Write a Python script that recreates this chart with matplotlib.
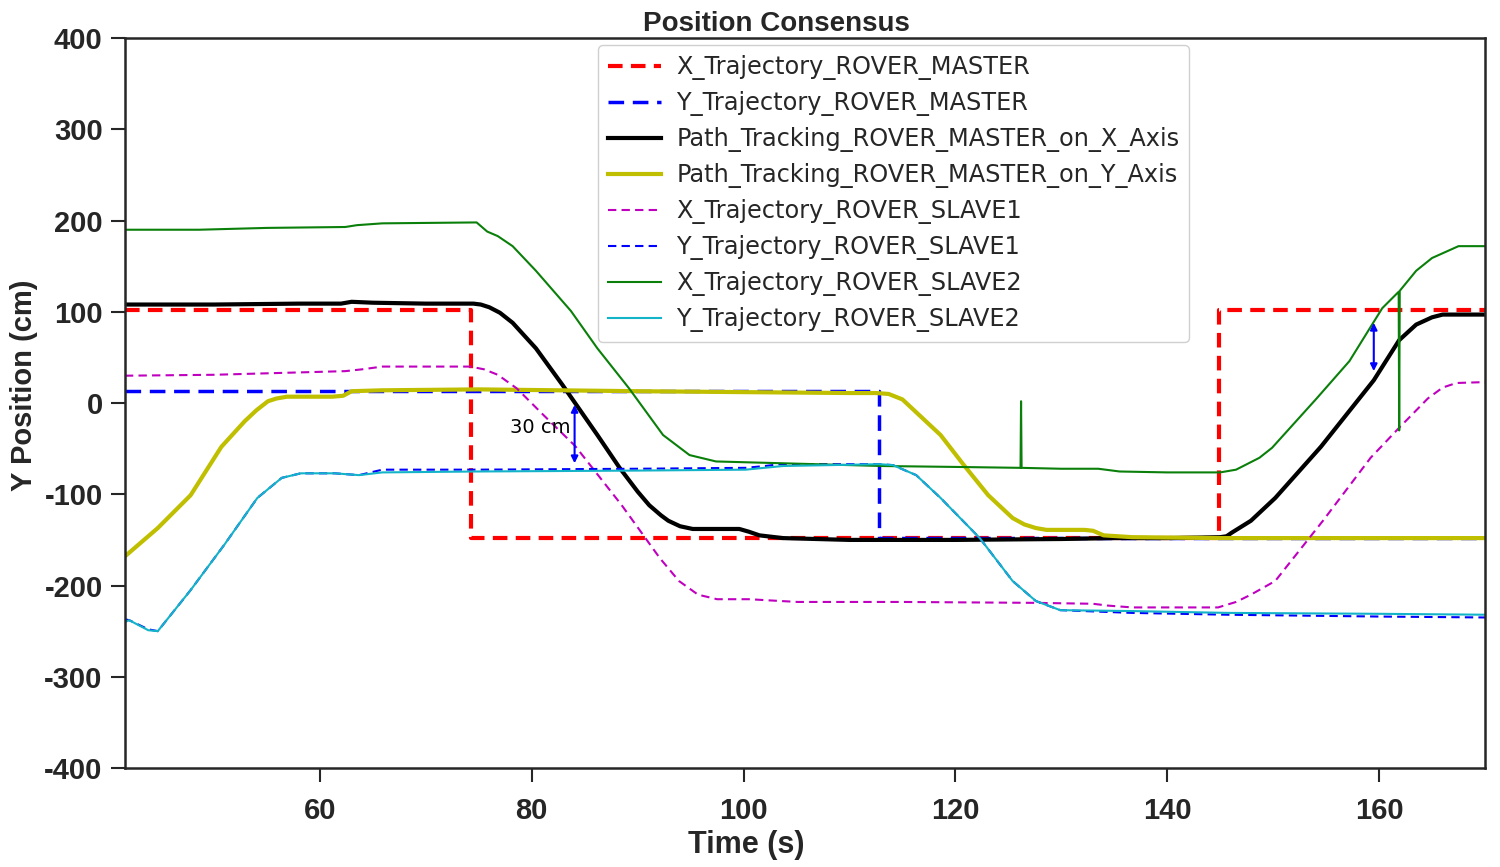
import matplotlib
matplotlib.use("Agg")
import matplotlib.pyplot as plt

plt.rcParams["axes.unicode_minus"] = False

# ---------------------------------------------------------------------------
# Data (time in s, position in cm)
# ---------------------------------------------------------------------------

x_master_t = [41.6, 74.3, 74.3, 144.9, 144.9, 170]
x_master_y = [102, 102, -148, -148, 102, 102]

y_master_t = [41.6, 112.8, 112.8, 170]
y_master_y = [13, 13, -148, -148]

track_x_t = [41.6, 50, 58, 62, 63, 65, 70, 74.5, 75.2, 76, 77, 78.2, 80.4, 82.9,
             86.2, 88.3, 90, 91.1, 92.2, 92.9, 94, 95.2, 99.6, 100.5, 101.5,
             103.7, 110, 120, 130, 135, 140, 145, 145.6, 146.1, 147.9, 150.2,
             154.5, 159.5, 161.9, 163.5, 165, 166, 170]
track_x_y = [108, 108, 109, 109, 111, 110, 109, 109, 108, 105, 99, 88, 60, 20,
             -35, -71, -97, -112, -123, -129, -135, -138, -138, -141, -145,
             -148, -150, -150, -149, -148, -148, -147, -146, -142, -129, -104,
             -48, 25, 69, 86, 94, 97, 97]

track_y_t = [41.6, 42, 44.7, 47.8, 50.7, 52.9, 54, 55.1, 55.9, 56.9, 61.2, 62.2,
             63, 65.9, 75, 90, 100, 110, 112.5, 113.7, 115, 118.6, 120.8, 123.1,
             125.4, 126.5, 127.6, 128.6, 132.2, 133, 134, 136.7, 145, 170]
track_y_y = [-168, -164, -137, -101, -48, -20, -8, 2, 5, 7, 7, 8,
             13, 14, 15, 13, 12, 11, 11, 10, 4, -35, -68, -101,
             -126, -133, -137, -139, -139, -140, -145, -147, -148, -148]

x_slave1_t = [41.6, 50, 62.4, 64, 65.9, 74.2, 75.5, 76.8, 78.6, 81.1, 84.1, 88.5,
              92.1, 93.9, 95.7, 97.5, 100.6, 102, 105.1, 115, 127.6, 133, 134.4,
              136.7, 144.8, 146.5, 147.9, 150.2, 154.7, 159.2, 161.9, 164.6, 166,
              167.3, 170]
x_slave1_y = [30, 31, 35, 37, 40, 40, 37, 31, 16, -13, -47, -112,
              -170, -195, -210, -215, -215, -216, -218, -218, -219, -220, -222,
              -224, -224, -218, -210, -195, -129, -60, -27, 5, 17,
              22, 23]

y_slave1_t = [41.6, 42, 43.8, 44.7, 47.8, 51, 54.1, 56.4, 58.2, 61.4, 63.7, 65.9,
              74.9, 90, 100.2, 102, 103.5, 112.8, 114.1, 116.3, 118.6, 122.3,
              125.4, 127.6, 129.9, 136.7, 145.7, 160, 170]
y_slave1_y = [-237, -238, -248, -250, -205, -155, -104, -82, -77, -77, -79, -73,
              -73, -72, -71, -69, -67, -67, -68, -79, -104, -148,
              -195, -217, -227, -230, -232, -234, -235]

x_slave2_t = [41.6, 48.6, 55, 62.4, 63.5, 65.9, 74.8, 75.8, 76.8, 78.2, 80.4,
              83.7, 86.2, 89.2, 92.4, 94.9, 97.4, 103.7, 113.1, 120, 126.15,
              126.2, 126.25, 130, 133.5, 135.5, 140, 145, 146.5, 148.7, 149.9,
              154.1, 157.2, 160.3, 161.85, 161.9, 161.95, 163.5, 165, 167.5, 170]
x_slave2_y = [190, 190, 192, 193, 195, 197, 198, 188, 183, 172, 145,
              101, 60, 16, -35, -57, -64, -66, -69, -70, -71,
              2, -71, -72, -72, -75, -76, -76, -73, -60, -49,
              5, 46, 104, 122, -30, 123, 145, 159, 172, 172]

y_slave2_t = [41.6, 42, 43.8, 44.7, 47.8, 51, 54.1, 56.4, 58.2, 61.4, 63.7, 65.9,
              74.9, 90, 100.2, 103.7, 112.8, 114.1, 116.3, 118.6, 122.3, 125.4,
              127.6, 129.9, 136.7, 145.7, 160, 170]
y_slave2_y = [-240, -238, -249, -250, -205, -155, -104, -82, -77, -77, -79, -76,
              -75, -74, -73, -69, -67, -68, -79, -104, -148, -195,
              -217, -227, -228, -230, -231, -232]

gap_arrows = [(84.05, -2, -66), (159.5, 88, 35)]
gap_label = "30 cm"

TEXT = "#262626"
BOLD_FONT = ["Liberation Sans", "DejaVu Sans"]

fig = plt.figure(figsize=(15, 8.67), dpi=100)
ax = fig.add_axes([0.0833, 0.1142, 0.9067, 0.8418])

ax.plot(x_master_t, x_master_y, color="#ff0000", lw=3, dashes=(3.5, 2),
        label="X_Trajectory_ROVER_MASTER")
ax.plot(y_master_t, y_master_y, color="#0000ff", lw=2.5, dashes=(4.5, 2.5),
        label="Y_Trajectory_ROVER_MASTER")
ax.plot(track_x_t, track_x_y, color="black", lw=3,
        label="Path_Tracking_ROVER_MASTER_on_X_Axis")
ax.plot(track_y_t, track_y_y, color="#bfbf00", lw=3,
        label="Path_Tracking_ROVER_MASTER_on_Y_Axis")
ax.plot(x_slave1_t, x_slave1_y, color="#bf00bf", lw=1.5, dashes=(4, 2.5),
        label="X_Trajectory_ROVER_SLAVE1")
ax.plot(y_slave1_t, y_slave1_y, color="#0000ff", lw=1.5, dashes=(4, 2.5),
        label="Y_Trajectory_ROVER_SLAVE1")
ax.plot(x_slave2_t, x_slave2_y, color="#0a7f0a", lw=1.5,
        label="X_Trajectory_ROVER_SLAVE2")
ax.plot(y_slave2_t, y_slave2_y, color="#14b4c8", lw=1.5,
        label="Y_Trajectory_ROVER_SLAVE2")

for t, y_top, y_bot in gap_arrows:
    ax.annotate("", xy=(t, y_bot), xytext=(t, y_top),
                arrowprops=dict(arrowstyle="<|-|>", color="#0000ff", lw=1.5,
                                mutation_scale=10, shrinkA=0, shrinkB=0))
ax.text(80.8, -27, gap_label, ha="center", va="center", fontsize=14, color="black")

ax.set_xlim(41.6, 170)
ax.set_ylim(-400, 400)
ax.set_xticks([60, 80, 100, 120, 140, 160])
ax.set_yticks(range(-400, 401, 100))

for spine in ax.spines.values():
    spine.set_linewidth(1.8)
    spine.set_color(TEXT)
ax.tick_params(axis="both", direction="out", length=10, width=1.5, color=TEXT,
               labelcolor=TEXT)
ax.tick_params(axis="x", pad=11)
ax.tick_params(axis="y", pad=6)
for lbl in ax.get_xticklabels() + ax.get_yticklabels():
    lbl.set_fontfamily(BOLD_FONT)
    lbl.set_fontweight("bold")
    lbl.set_fontsize(21)

ax.set_title("Position Consensus", x=0.479, pad=5, fontsize=20, fontweight="bold",
             family=BOLD_FONT, color=TEXT)
ax.set_xlabel("Time (s)", fontsize=22, fontweight="bold", family=BOLD_FONT,
              color=TEXT)
ax.xaxis.set_label_coords(0.457, -0.085)
ax.set_ylabel("Y Position (cm)", fontsize=21, fontweight="bold", family=BOLD_FONT,
              color=TEXT)
ax.yaxis.set_label_coords(-0.064, 0.525)

leg = ax.legend(loc="upper left", bbox_to_anchor=(0.348, 0.990), fontsize=17.3,
                handlelength=2.2, handletextpad=0.65, labelspacing=0.46,
                borderpad=0.4, borderaxespad=0, framealpha=1,
                edgecolor="#d0d0d0")
for txt in leg.get_texts():
    txt.set_color(TEXT)

fig.savefig("out.png", dpi=100)
